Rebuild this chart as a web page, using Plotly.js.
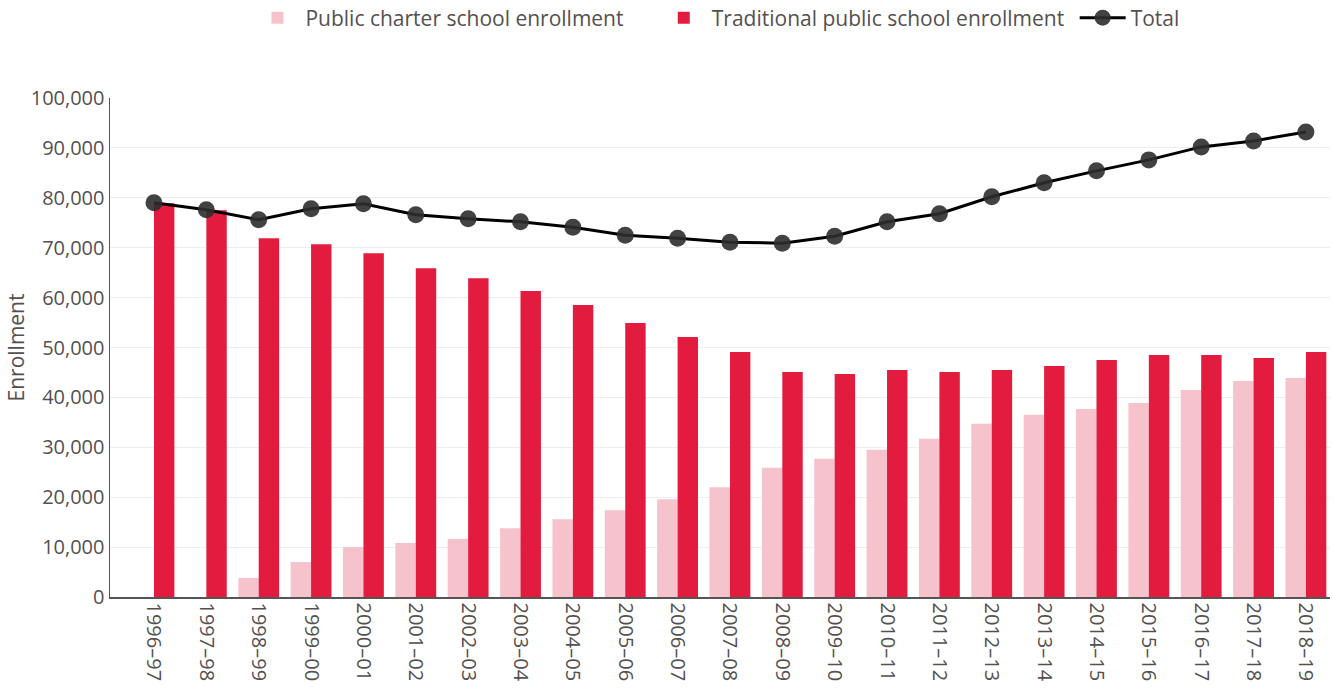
<!DOCTYPE html>
<html>
<head>
<meta charset="utf-8">
<script src="https://cdn.plot.ly/plotly-3.0.1.min.js"></script>
<style>html,body{margin:0;padding:0;background:#fff;}#chart{width:1333px;height:696px;}</style>
</head>
<body>
<div id="chart"></div>
<script>
const years = ["1996–97","1997–98","1998–99","1999–00","2000–01","2001–02","2002–03","2003–04","2004–05","2005–06","2006–07","2007–08","2008–09","2009–10","2010–11","2011–12","2012–13","2013–14","2014–15","2015–16","2016–17","2017–18","2018–19"];
const charter = [0,0,3800,7000,10000,10800,11600,13800,15600,17400,19600,22000,25900,27700,29500,31700,34700,36500,37700,38900,41500,43300,43900];
const traditional = [78900,77500,71900,70700,68900,65900,63900,61300,58500,54900,52100,49100,45100,44700,45500,45100,45500,46300,47500,48500,48500,47900,49100];
const total = [79000,77600,75600,77800,78800,76600,75800,75200,74100,72500,71900,71100,70900,72300,75200,76800,80200,83000,85400,87600,90200,91400,93200];
const seriesNames = ["Public charter school enrollment","Traditional public school enrollment","Total"];

const fam = '"Open Sans", sans-serif';
const txt = '#555050';
const pad = n => '\u00a0'.repeat(n);

const traces = [
  {type:'bar', name:seriesNames[0] + pad(5), x:years, y:charter,
   marker:{color:'#f6c3cd'}},
  {type:'bar', name:seriesNames[1] + pad(1), x:years, y:traditional,
   marker:{color:'#e31c3f'}},
  {type:'scatter', mode:'lines+markers', name:seriesNames[2], x:years, y:total,
   line:{color:'#000000', width:3},
   marker:{color:'rgba(45,45,45,0.9)', size:17}}
];

const layout = {
  width:1333, height:696,
  margin:{l:110, r:3, t:98, b:99},
  paper_bgcolor:'#fff', plot_bgcolor:'#fff',
  font:{family:fam, color:txt},
  barmode:'group', bargap:0.22, bargroupgap:0,
  showlegend:true,
  legend:{orientation:'h', x:0.4975, xanchor:'center', y:1 - 18/696, yanchor:'middle',
          xref:'paper', yref:'container', itemwidth:46,
          font:{size:21, family:fam, color:txt}},
  xaxis:{type:'category', range:[-0.84, 22.46], tickangle:90,
         tickfont:{size:20, family:fam, color:txt},
         showline:true, linecolor:'#555', linewidth:1.5, showgrid:false, ticks:'', zeroline:false},
  yaxis:{range:[0,100000], dtick:10000, tickformat:',d',
         tickfont:{size:20, family:fam, color:txt},
         title:{text:'Enrollment', font:{size:21, family:fam, color:txt}, standoff:0},
         showline:true, linecolor:'#555', linewidth:1.5, gridcolor:'#eeeeee', gridwidth:1,
         zeroline:false, ticks:''}
};

Plotly.newPlot('chart', traces, layout, {displayModeBar:false, staticPlot:true});
</script>
</body>
</html>
